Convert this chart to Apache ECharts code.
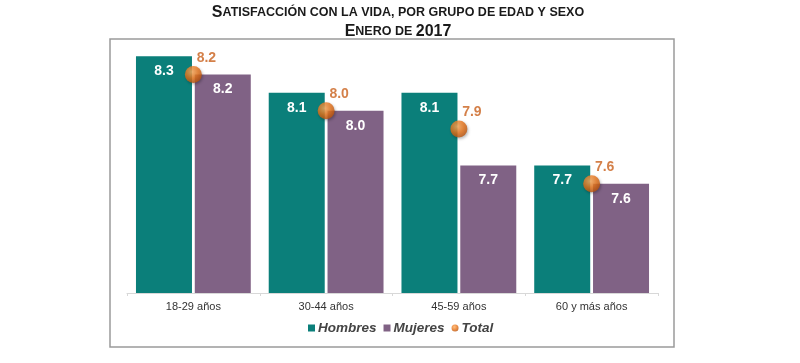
<!DOCTYPE html>
<html><head><meta charset="utf-8">
<script src="https://cdn.jsdelivr.net/npm/echarts@6/dist/echarts.min.js"></script>
<style>html,body{margin:0;padding:0;background:#fff}#c{width:800px;height:363px}</style>
</head><body><div id="c"></div>
<script>
const categories = ['18-29 años', '30-44 años', '45-59 años', '60 y más años'];
const hombres = [8.3, 8.1, 8.1, 7.7];
const mujeres = [8.2, 8.0, 7.7, 7.6];
const total = [8.2, 8.0, 7.9, 7.6];
const legendNames = ['Hombres', 'Mujeres', 'Total'];

const chart = echarts.init(document.getElementById('c'), null, {renderer: 'canvas'});
const FONT = '"Liberation Sans", Arial, Helvetica, sans-serif';
const barLabel = {show: true, position: 'insideTop', distance: 8, color: '#fff', fontWeight: 'bold', fontSize: 14, fontFamily: FONT, formatter: p => p.value.toFixed(1)};
chart.setOption({
  animation: false,
  textStyle: {fontFamily: FONT},
  title: {
    left: 393, textAlign: 'center', top: -2,
    text: '{b|S}{s|ATISFACCIÓN CON LA VIDA, POR GRUPO DE EDAD Y SEXO}\n{b|E}{s|NERO DE }{b|2017}',
    textStyle: {
      lineHeight: 19,
      rich: {
        b: {fontSize: 16, fontWeight: 'bold', color: '#1a1a1a', fontFamily: FONT, lineHeight: 19},
        s: {fontSize: 12.5, fontWeight: 'bold', color: '#1a1a1a', fontFamily: FONT, lineHeight: 19}
      }
    }
  },
  graphic: [{
    type: 'rect', shape: {x: 110, y: 39, width: 564, height: 308},
    style: {fill: 'none', stroke: '#9a9a9a', lineWidth: 1.5}, z: 0, silent: true
  }],
  legend: {
    data: [{name: 'Hombres', icon: 'rect'}, {name: 'Mujeres', icon: 'rect'}, {name: 'Total', icon: 'circle'}],
    left: 303, top: 316, itemWidth: 7, itemHeight: 7, itemGap: 7,
    textStyle: {fontSize: 13.5, fontStyle: 'italic', fontWeight: 'bold', color: '#444', fontFamily: FONT, padding: [0, 0, 0, -2]}
  },
  grid: {left: 127, right: 142, top: 38, bottom: 70},
  xAxis: {
    type: 'category', data: categories,
    axisLine: {lineStyle: {color: '#d8d8d8', width: 1}},
    axisTick: {show: true, length: 3, lineStyle: {color: '#d8d8d8'}},
    axisLabel: {color: '#333', fontSize: 11, margin: 8, fontFamily: FONT}
  },
  yAxis: {type: 'value', min: 7, max: 8.4, show: false, splitLine: {show: false}},
  series: [
    {name: legendNames[0], type: 'bar', data: hombres, barWidth: 56, barGap: '5%',
     itemStyle: {color: '#0b7f7a'}, label: barLabel, z: 2},
    {name: legendNames[1], type: 'bar', data: mujeres, barWidth: 56,
     itemStyle: {color: '#806285'}, label: barLabel, z: 2},
    {name: legendNames[2], type: 'scatter', data: total, symbol: 'circle', symbolSize: 17, z: 5,
     itemStyle: {
       color: new echarts.graphic.RadialGradient(0.4, 0.35, 0.7, [
         {offset: 0, color: '#ffb060'}, {offset: 0.55, color: '#e8741a'}, {offset: 1, color: '#b4500c'}]),
       shadowColor: 'rgba(0,0,0,0.35)', shadowBlur: 3, shadowOffsetX: 1, shadowOffsetY: 1.5
     },
     label: {show: true, position: 'top', offset: [13, 4], color: '#c9601c', fontWeight: 'bold', fontSize: 14, fontFamily: FONT,
       formatter: p => p.value.toFixed(1)}
    }
  ]
});
</script></body></html>
